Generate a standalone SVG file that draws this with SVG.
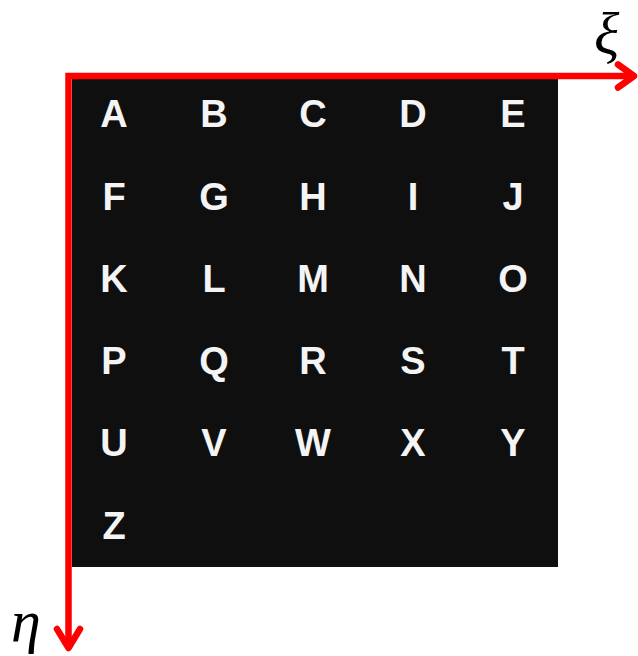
<svg xmlns="http://www.w3.org/2000/svg" width="638" height="656" viewBox="0 0 638 656">
<style>
.lt{font-family:"Liberation Sans",Arial,sans-serif;font-weight:bold;font-size:38px;fill:#f4f4f4;text-anchor:middle}
.ax{fill:none;stroke:#ff0000;stroke-width:6.5}
.hd{fill:none;stroke:#ff0000;stroke-width:6.5;stroke-linecap:round;stroke-linejoin:round}
.gk{font-family:"Liberation Serif","DejaVu Serif",serif;font-style:italic;fill:#000}
</style>
<rect x="0" y="0" width="638" height="656" fill="#fff"/>
<g id="panel">
<rect x="72" y="79" width="486" height="488" fill="#0f0f0f"/>
</g>
<g id="letters" class="lt">
<text x="114" y="127">A</text><text x="214" y="127">B</text><text x="313" y="127">C</text><text x="413" y="127">D</text><text x="513" y="127">E</text>
<text x="114" y="210">F</text><text x="214" y="210">G</text><text x="313" y="210">H</text><text x="413" y="210">I</text><text x="513" y="210">J</text>
<text x="114" y="292">K</text><text x="214" y="292">L</text><text x="313" y="292">M</text><text x="413" y="292">N</text><text x="513" y="292">O</text>
<text x="114" y="374">P</text><text x="214" y="374">Q</text><text x="313" y="374">R</text><text x="413" y="374">S</text><text x="513" y="374">T</text>
<text x="114" y="456">U</text><text x="214" y="456">V</text><text x="313" y="456">W</text><text x="413" y="456">X</text><text x="513" y="456">Y</text>
<text x="114" y="539">Z</text>
</g>
<g id="connectors">
<path class="ax" d="M634 76 H68.5 V648"/>
<path class="hd" d="M618 64.5 L634 76 L618 87.5"/>
<path class="hd" d="M57 629 L68.5 648 L80 629"/>
</g>
<g id="xi-label"><text class="gk" x="594" y="54" font-size="59">ξ</text></g>
<g id="eta-label"><text class="gk" x="11" y="641" font-size="60">η</text></g>
</svg>
